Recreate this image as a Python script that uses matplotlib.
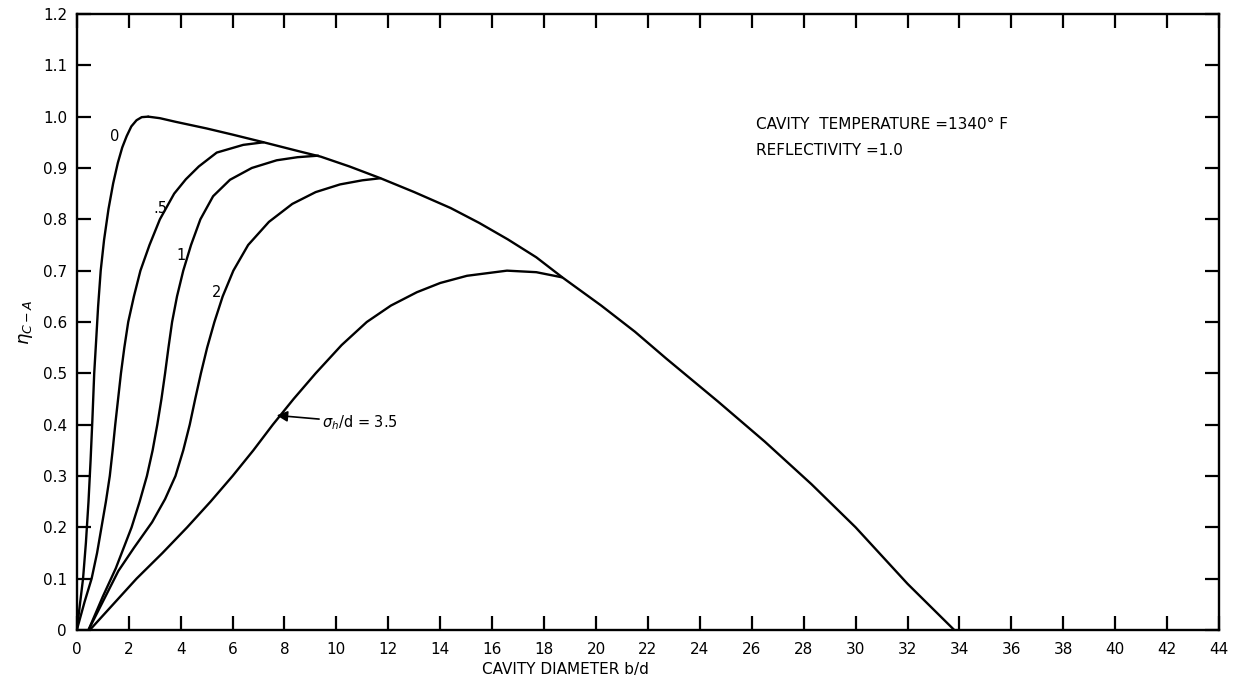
import matplotlib
matplotlib.use("Agg")
import matplotlib.pyplot as plt

# curves, one per sigma_h/d value
x_s0 = [0, 0.12, 0.24, 0.35, 0.45, 0.53, 0.6, 0.67, 0.74, 0.82, 0.92, 1.05, 1.22, 1.4,
        1.58, 1.75, 1.92, 2.1, 2.3, 2.5, 2.75]
y_s0 = [0, 0.05, 0.1, 0.17, 0.25, 0.33, 0.41, 0.5, 0.56, 0.63, 0.7, 0.76, 0.82, 0.87,
        0.91, 0.94, 0.962, 0.981, 0.993, 0.999, 1.0]

x_s05 = [0, 0.3, 0.57, 0.78, 0.95, 1.12, 1.27, 1.38, 1.48, 1.59, 1.7, 1.83, 1.98, 2.2,
         2.45, 2.8, 3.2, 3.75, 4.2, 4.7, 5.39, 6.41, 7.19]
y_s05 = [0, 0.055, 0.1, 0.15, 0.2, 0.25, 0.3, 0.35, 0.4, 0.45, 0.5, 0.55, 0.6, 0.65,
         0.7, 0.75, 0.8, 0.85, 0.878, 0.903, 0.93, 0.945, 0.95]

x_s1 = [0.45, 1.0, 1.5, 2.11, 2.42, 2.7, 2.92, 3.1, 3.26, 3.4, 3.53, 3.67, 3.86, 4.1,
        4.4, 4.76, 5.25, 5.9, 6.74, 7.7, 8.5, 9.3]
y_s1 = [0, 0.065, 0.12, 0.2, 0.25, 0.3, 0.35, 0.4, 0.45, 0.5, 0.55, 0.6, 0.65, 0.7,
        0.75, 0.8, 0.845, 0.877, 0.9, 0.915, 0.921, 0.924]

x_s2 = [0.45, 1.1, 1.6, 2.2, 2.9, 3.4, 3.8, 4.1, 4.35, 4.56, 4.78, 5.02, 5.3, 5.62,
        6.03, 6.6, 7.4, 8.3, 9.2, 10.14, 11.0, 11.69]
y_s2 = [0, 0.065, 0.115, 0.16, 0.21, 0.255, 0.3, 0.35, 0.4, 0.45, 0.5, 0.55, 0.6, 0.65,
        0.7, 0.75, 0.795, 0.83, 0.853, 0.868, 0.876, 0.88]

x_s35 = [0.5, 1.4, 2.3, 3.3, 4.25, 5.15, 6.0, 6.8, 7.55, 8.35, 9.2, 10.2, 11.17, 12.1,
         13.1, 14.0, 15.03, 16.57, 17.7, 18.69]
y_s35 = [0, 0.05, 0.1, 0.15, 0.2, 0.25, 0.3, 0.35, 0.4, 0.45, 0.5, 0.555, 0.6, 0.632,
         0.658, 0.676, 0.69, 0.70, 0.697, 0.687]

# common upper envelope
x_env = [2.75, 3.2, 3.8, 5.0, 6.0, 7.2, 8.6, 9.4, 10.5, 11.7, 13.0, 14.4, 15.5, 16.6,
         17.7, 18.7, 20.2, 21.5, 22.7, 24.7, 26.5, 28.3, 30.0, 32.0, 33.8]
y_env = [1.0, 0.997, 0.99, 0.977, 0.965, 0.950, 0.932, 0.922, 0.903, 0.880, 0.853, 0.822,
         0.793, 0.761, 0.726, 0.687, 0.632, 0.581, 0.529, 0.445, 0.367, 0.284, 0.200,
         0.090, 0.0]

curve_labels = ["0", ".5", "1", "2"]
label_x = [1.46, 3.2, 4.0, 5.39]
label_y = [0.961, 0.822, 0.729, 0.658]

x_ticks = list(range(0, 45, 2))
y_ticks = [0, 0.1, 0.2, 0.3, 0.4, 0.5, 0.6, 0.7, 0.8, 0.9, 1.0, 1.1, 1.2]
y_ticklabels = ["0", "0.1", "0.2", "0.3", "0.4", "0.5", "0.6", "0.7", "0.8", "0.9",
                "1.0", "1.1", "1.2"]

plt.rcParams['font.family'] = ['DejaVu Sans']

fig = plt.figure(figsize=(12.39, 6.85), dpi=100)
ax = fig.add_axes([0.062, 0.0803, 0.9219, 0.8993])

lw = 1.7
for xs, ys in [(x_s0, y_s0), (x_s05, y_s05), (x_s1, y_s1), (x_s2, y_s2),
               (x_s35, y_s35), (x_env, y_env)]:
    ax.plot(xs, ys, color='black', lw=lw, solid_joinstyle='round', solid_capstyle='round')

for lab, lx, ly in zip(curve_labels, label_x, label_y):
    ax.text(lx, ly, lab, fontsize=10.5, ha='center', va='center')

ax.annotate(r'$\sigma_{h}$/d = 3.5', xy=(7.70, 0.418), xytext=(9.44, 0.404),
            fontsize=10.5, ha='left', va='center',
            arrowprops=dict(arrowstyle='-|>', color='black', lw=1.2,
                            mutation_scale=16, shrinkA=0, shrinkB=0))

ax.text(26.15, 0.985, "CAVITY  TEMPERATURE =1340° F", fontsize=11, ha='left', va='center')
ax.text(26.15, 0.935, "REFLECTIVITY =1.0", fontsize=11, ha='left', va='center')

ax.set_xlim(0, 44)
ax.set_ylim(0, 1.2)
ax.set_xticks(x_ticks)
ax.set_yticks(y_ticks)
ax.set_yticklabels(y_ticklabels)
ax.tick_params(direction='in', length=10, width=1.6, labelsize=11,
               top=True, right=True)
ax.tick_params(axis='x', pad=9)
ax.tick_params(axis='y', pad=7)
for sp in ax.spines.values():
    sp.set_linewidth(1.7)

ax.set_ylabel(r'$\eta_{C-A}$', fontsize=13, labelpad=6)
fig.text(565 / 1239, 0.012, "CAVITY DIAMETER b/d", fontsize=11, ha='center', va='bottom')

fig.savefig("out.png", dpi=100)
